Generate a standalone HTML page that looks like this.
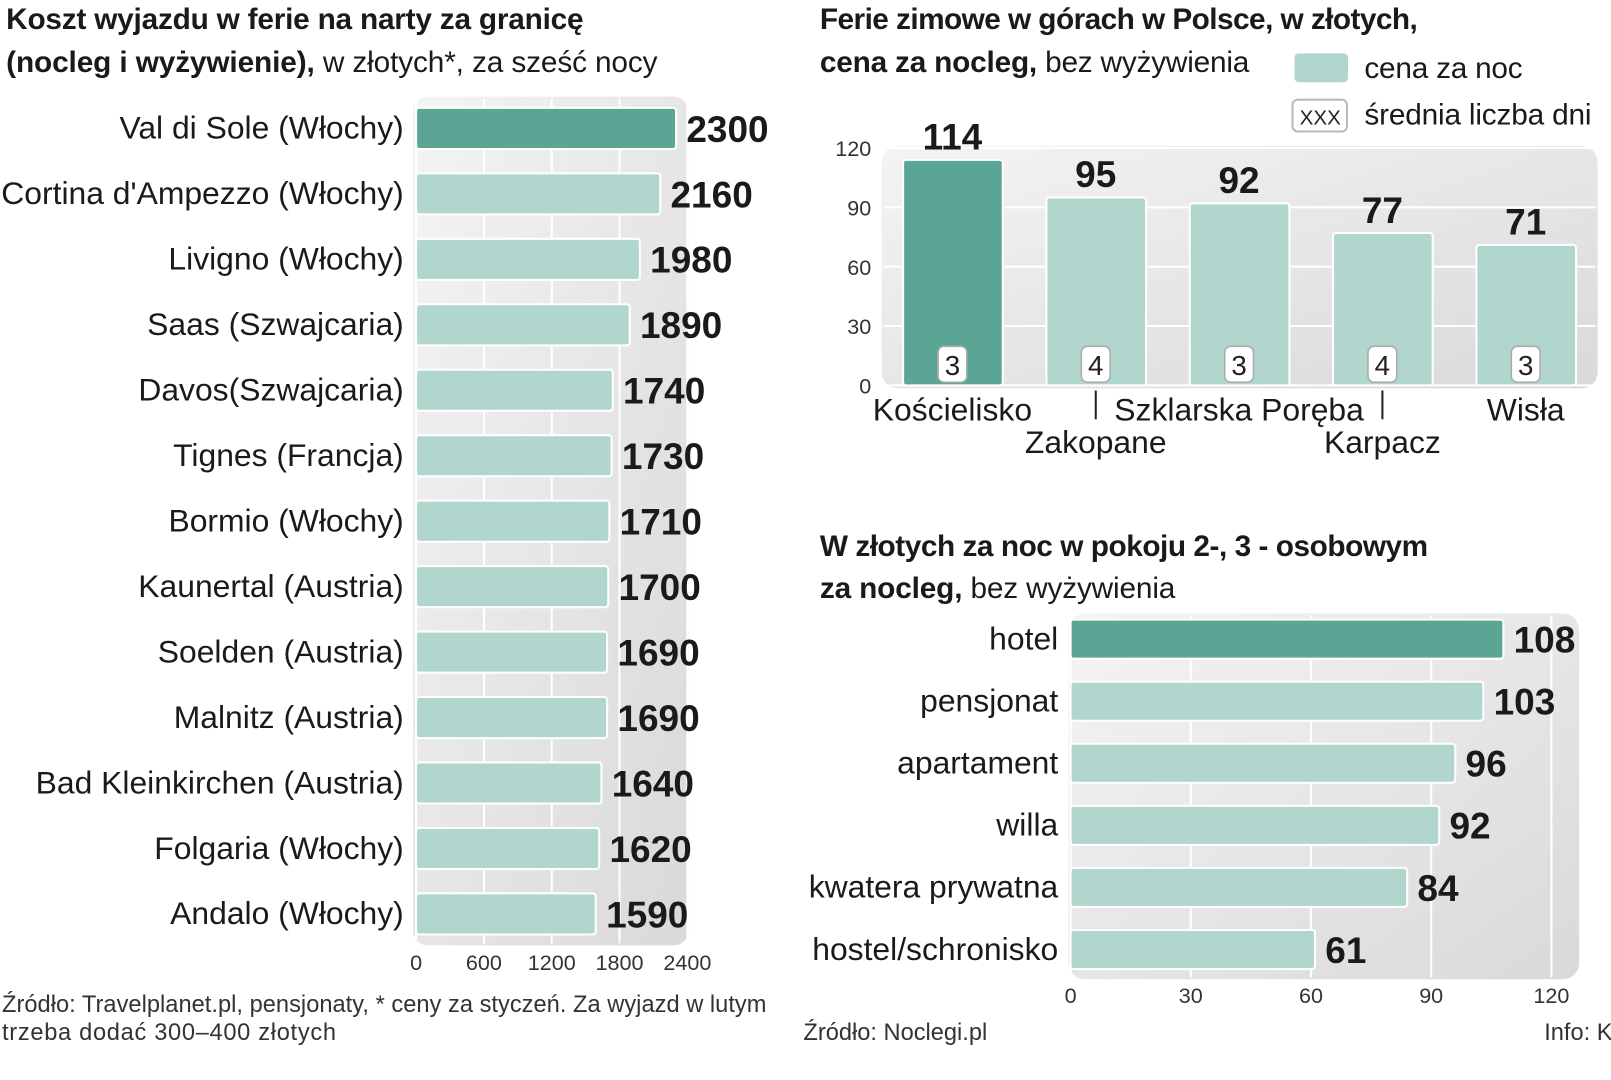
<!DOCTYPE html>
<html><head><meta charset="utf-8"><style>
html,body{margin:0;padding:0;background:#fff;}
svg{display:block;font-family:"Liberation Sans Narrow","Liberation Sans",sans-serif;}
.t{font-size:31px;fill:#1a1a1a;}
.h{font-size:29px;fill:#1a1a1a;}
.b{font-weight:bold;}
.v{font-size:36px;font-weight:bold;fill:#1a1a1a;}
.tk{font-size:21px;fill:#333;}
.s{font-size:23px;fill:#333;}
</style></head><body>
<svg id="c" width="1611" height="1080" viewBox="0 0 1568 1051" preserveAspectRatio="none">
<defs>
<linearGradient id="g" x1="0" y1="0" x2="1" y2="1"><stop offset="0" stop-color="#f4f4f4"/><stop offset="1" stop-color="#d9d9d9"/></linearGradient>
</defs>
<text x="6" y="28" class="h b" textLength="562">Koszt wyjazdu  w ferie na narty za granicę</text>
<text x="6" y="70" class="h" textLength="634"><tspan class="b">(nocleg i wyżywienie),</tspan> w złotych*, za sześć nocy</text>
<text x="798" y="28" class="h b" textLength="582">Ferie zimowe w górach w Polsce, w złotych,</text>
<text x="798" y="70" class="h" textLength="418"><tspan class="b">cena za nocleg,</tspan> bez wyżywienia</text>
<rect x="1260" y="52" width="52" height="28" rx="4" fill="#b0d6cd"/>
<text x="1328" y="76" class="h" textLength="154">cena za noc</text>
<rect x="1258" y="97" width="53" height="31" rx="5" fill="#fff" stroke="#bbb" stroke-width="2"/>
<text x="1285" y="121" font-size="20" text-anchor="middle" fill="#222">XXX</text>
<text x="1328" y="121" class="h" textLength="221">średnia liczba dni</text>
<text x="798" y="541" class="h b" textLength="592">W złotych za noc w pokoju 2-, 3 - osobowym</text>
<text x="798" y="582" class="h" textLength="346"><tspan class="b">za nocleg,</tspan> bez wyżywienia</text>
<text x="2" y="985" class="s" textLength="744">Źródło: Travelplanet.pl, pensjonaty, * ceny za styczeń. Za wyjazd w lutym</text>
<text x="2" y="1012" class="s" textLength="325">trzeba dodać 300–400 złotych</text>
<text x="782" y="1012" class="s">Źródło: Noclegi.pl</text>
<text x="1503" y="1012" class="s">Info: K</text>
<g id="L"></g><g id="T"></g><g id="B"></g>
</svg>
<script>
const leftCats=["Val di Sole (Włochy)","Cortina d'Ampezzo (Włochy)","Livigno (Włochy)","Saas (Szwajcaria)","Davos(Szwajcaria)","Tignes (Francja)","Bormio (Włochy)","Kaunertal (Austria)","Soelden (Austria)","Malnitz (Austria)","Bad Kleinkirchen (Austria)","Folgaria (Włochy)","Andalo (Włochy)"];
const leftVals=[2300,2160,1980,1890,1740,1730,1710,1700,1690,1690,1640,1620,1590];
const leftTicks=[0,600,1200,1800,2400];
const topCats=["Kościelisko","Zakopane","Szklarska Poręba","Karpacz","Wisła"];
const topVals=[114,95,92,77,71];
const topDays=[3,4,3,4,3];
const topTicks=[0,30,60,90,120];
const botCats=["hotel","pensjonat","apartament","willa","kwatera prywatna","hostel/schronisko"];
const botVals=[108,103,96,92,84,61];
const botTicks=[0,30,60,90,120];
const NS="http://www.w3.org/2000/svg";
function mk(p,t,a,txt){const e=document.createElementNS(NS,t);for(const k in a)e.setAttribute(k,a[k]);if(txt!==undefined)e.textContent=txt;p.appendChild(e);return e;}
const DARK="#5ba595",LIGHT="#b0d6cd";
(function(){
const g=document.getElementById('L');
const x=v=>405+v/2400*264, y=i=>125+i*63.7;
let e=mk(g,'rect',{x:402,y:94,width:268,height:826,rx:14,fill:'url(#g)'});

leftTicks.forEach(t=>{
 e=mk(g,'line',{x1:x(t),x2:x(t),y1:96,y2:918,stroke:'#fff','stroke-width':2});
 
 e=mk(g,'text',{x:x(t),y:944,class:'tk','text-anchor':'middle'},t);
 
});
leftCats.forEach((c,i)=>{
 e=mk(g,'rect',{x:x(0),y:y(i)-20,width:x(leftVals[i])-x(0),height:40,rx:3,fill:i==0?DARK:LIGHT,stroke:'#fff','stroke-width':2});
 
 e=mk(g,'text',{x:393,y:y(i)+10,class:'t','text-anchor':'end'},c);
 
 e=mk(g,'text',{x:x(leftVals[i])+10,y:y(i)+13,class:'v'},leftVals[i]);
 
});
})();
(function(){
const g=document.getElementById('T');
const y=v=>375-v/120*231, cx=i=>927+i*139.5;
let e=mk(g,'rect',{x:858,y:142,width:697,height:236,rx:16,fill:'url(#g)'});

topTicks.forEach(t=>{
 e=mk(g,'line',{x1:860,x2:1553,y1:y(t),y2:y(t),stroke:'#fff','stroke-width':2});
 
 e=mk(g,'text',{x:848,y:y(t)+8,class:'tk','text-anchor':'end'},t);
 
});
topCats.forEach((c,i)=>{
 e=mk(g,'rect',{x:cx(i)-48,y:y(topVals[i]),width:97,height:y(0)-y(topVals[i]),rx:3,fill:i==0?DARK:LIGHT,stroke:'#fff','stroke-width':2});
 
 e=mk(g,'text',{x:cx(i),y:y(topVals[i])-10,class:'v','text-anchor':'middle'},topVals[i]);
 
 e=mk(g,'rect',{x:cx(i)-14,y:337,width:28,height:35,rx:6,fill:'#fff',stroke:'#aaa','stroke-width':1.5});
 
 e=mk(g,'text',{x:cx(i),y:365,'font-size':27,fill:'#222','text-anchor':'middle'},topDays[i]);
 
 const low=i%2==1;
 if(low){e=mk(g,'line',{x1:cx(i),x2:cx(i),y1:380,y2:408,stroke:'#222','stroke-width':2});
  }
 e=mk(g,'text',{x:cx(i),y:low?441:409,class:'t','text-anchor':'middle'},c);
 
});
})();
(function(){
const g=document.getElementById('B');
const x=v=>1042+v/120*468, y=i=>622+i*60.4;
let e=mk(g,'rect',{x:1040,y:597,width:497,height:356,rx:16,fill:'url(#g)'});

botTicks.forEach(t=>{
 e=mk(g,'line',{x1:x(t),x2:x(t),y1:599,y2:951,stroke:'#fff','stroke-width':2});
 
 e=mk(g,'text',{x:x(t),y:976,class:'tk','text-anchor':'middle'},t);
 
});
botCats.forEach((c,i)=>{
 e=mk(g,'rect',{x:x(0),y:y(i)-19,width:x(botVals[i])-x(0),height:38,rx:3,fill:i==0?DARK:LIGHT,stroke:'#fff','stroke-width':2});
 
 e=mk(g,'text',{x:1030,y:y(i)+10,class:'t','text-anchor':'end'},c);
 
 e=mk(g,'text',{x:x(botVals[i])+10,y:y(i)+13,class:'v'},botVals[i]);
 
});
})();
</script>
</body></html>
